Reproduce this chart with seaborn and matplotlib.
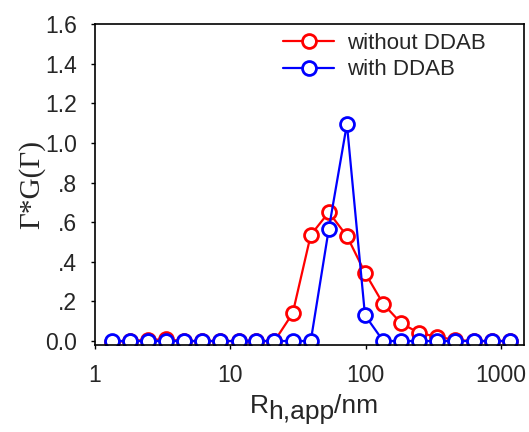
import matplotlib
matplotlib.use("Agg")
import matplotlib.pyplot as plt
import pandas as pd
import seaborn as sns

# Hydrodynamic radius grid (nm) and distributions
radius = [1.33, 1.81, 2.46, 3.35, 4.56, 6.2, 8.43, 11.5, 15.6, 21.2, 28.9, 39.3,
          53.4, 72.7, 98.9, 135, 183, 249, 339, 461, 627, 853, 1160]
without_ddab = [-0.004, 0, 0.006, 0.008, 0, 0, 0, 0, 0, 0, 0.14, 0.535,
                0.65, 0.53, 0.345, 0.187, 0.09, 0.04, 0.022, 0.005, 0, 0, 0]
with_ddab = [0, 0, 0, 0, 0, 0, 0, 0, 0, 0, 0, 0,
             0.565, 1.095, 0.13, 0, 0, 0, 0, 0, 0, 0, 0]
series_names = ["without DDAB", "with DDAB"]
series_colors = ["#ff0000", "#0000ff"]
y_ticks = [0.0, 0.2, 0.4, 0.6, 0.8, 1.0, 1.2, 1.4, 1.6]
y_tick_labels = ["0.0", ".2", ".4", ".6", ".8", "1.0", "1.2", "1.4", "1.6"]
x_ticks = [1, 10, 100, 1000]
x_tick_labels = ["1", "10", "100", "1000"]
# x label parts: (text, baseline shift in px)
xlabel_parts = [("R", 0), ("h,app", -6), ("/nm", 0)]

df = pd.DataFrame({
    "R": radius * 2,
    "G": without_ddab + with_ddab,
    "sample": [series_names[0]] * len(radius) + [series_names[1]] * len(radius),
})

sns.set_style("ticks")
plt.rcParams["font.family"] = ["Liberation Sans", "DejaVu Sans"]

fig = plt.figure(figsize=(5.29, 4.32), dpi=100)
ax = fig.add_axes([95 / 529, 1 - 345 / 432, (524 - 95) / 529, (345 - 24) / 432])

sns.lineplot(data=df, x="R", y="G", hue="sample", hue_order=series_names,
             palette=series_colors, marker="o", markersize=10, markeredgewidth=2,
             markerfacecolor="white", linewidth=1.6, sort=False, ax=ax,
             legend=False, dashes=False)
for ln, c in zip(ax.get_lines(), series_colors):
    ln.set_markeredgecolor(c)
    ln.set_markerfacecolor("white")

ax.set_xscale("log")
ax.set_xlim(1, 1480)
ax.set_ylim(-0.02, 1.6)
ax.set_xticks(x_ticks)
ax.set_xticklabels(x_tick_labels)
ax.set_yticks(y_ticks)
ax.set_yticklabels(y_tick_labels)
ax.minorticks_off()
ax.tick_params(axis="both", labelsize=16.5, direction="out", length=3, width=1, color="black")
ax.tick_params(axis="y", pad=10)
ax.tick_params(axis="x", pad=11)
for sp in ax.spines.values():
    sp.set_visible(True)
    sp.set_linewidth(1.2)
    sp.set_color("black")

ax.set_xlabel("")
ax.set_ylabel("Γ*G(Γ)", fontsize=21, family=["Liberation Serif", "DejaVu Serif"], labelpad=0)

# x label drawn piece by piece so the subscript keeps full size
fig.canvas.draw()
renderer = fig.canvas.get_renderer()
pieces = []
total_w = 0
for txt, dy in xlabel_parts:
    t = fig.text(0, 0, txt, fontsize=19, ha="left", va="baseline")
    w = t.get_window_extent(renderer).width
    pieces.append((t, w, dy))
    total_w += w
x0 = 314 - total_w / 2
base_y = 432 - 413
for t, w, dy in pieces:
    t.set_position((x0 / 529, (base_y + dy) / 432))
    x0 += w

handles = [plt.Line2D([], [], color=c, marker="o", markersize=10, markeredgewidth=2,
                      markerfacecolor="white", linewidth=1.6) for c in series_colors]
fig.legend(handles, series_names, loc="center left", bbox_to_anchor=(283 / 529, 1 - 56.5 / 432),
           bbox_transform=fig.transFigure, frameon=False, fontsize=16, handlelength=2.3,
           handletextpad=0.6, labelspacing=0.25, borderpad=0, borderaxespad=0)

fig.savefig("out.png", dpi=100)
